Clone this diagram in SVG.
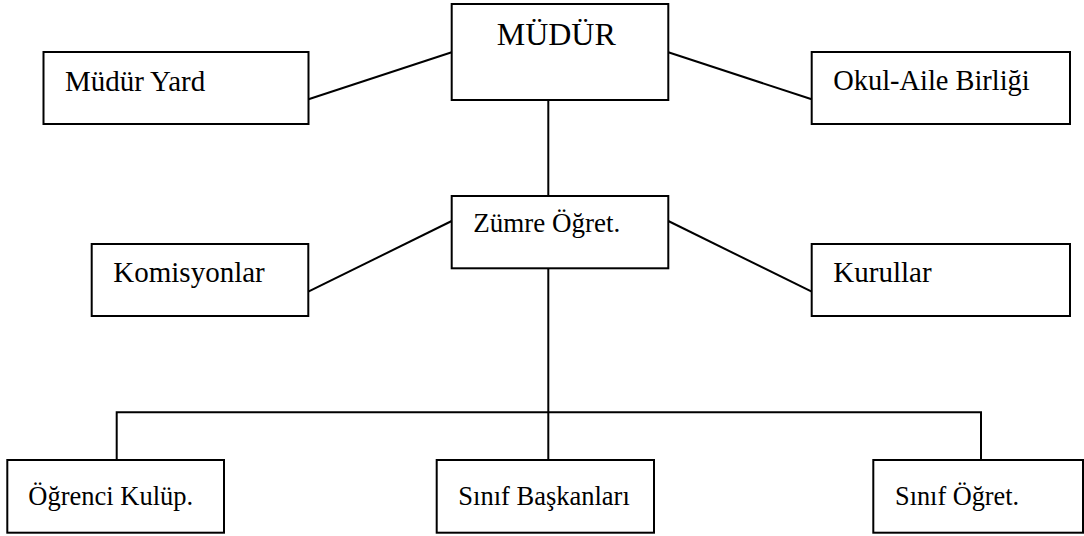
<svg xmlns="http://www.w3.org/2000/svg" width="1084" height="536" viewBox="0 0 1084 536">
<style>
.box{fill:#fff;stroke:#000;stroke-width:2}
.t{fill:#000}
.conn line,.conn polyline{stroke:#000;stroke-width:2;fill:none}
</style>
<rect width="1084" height="536" fill="#fff"/>
<g class="conn">
<line x1="308.5" y1="99.3" x2="451.7" y2="52.3"/>
<line x1="668.3" y1="52.3" x2="811.7" y2="99.3"/>
<line x1="548.3" y1="100" x2="548.3" y2="196"/>
<line x1="451.7" y1="221" x2="308.3" y2="291.7"/>
<line x1="668.3" y1="221" x2="811.7" y2="291.7"/>
<line x1="548.3" y1="268.3" x2="548.3" y2="460"/>
<polyline points="116.7,460 116.7,412.3 981,412.3 981,460"/>
</g>
<g font-family="'Liberation Serif', 'Times New Roman', 'DejaVu Serif', serif">
<g id="mudur">
<rect class="box" x="451.7" y="4" width="216.6" height="96"/>
<text class="t" x="496.7" y="45" font-size="32">MÜDÜR</text>
</g>
<g id="mudur-yard">
<rect class="box" x="43.5" y="52" width="265" height="72"/>
<text class="t" x="65" y="90.7" font-size="29">Müdür Yard</text>
</g>
<g id="okul-aile">
<rect class="box" x="811.7" y="52" width="258.3" height="72"/>
<text class="t" x="833.3" y="90" font-size="28.4">Okul-Aile Birliği</text>
</g>
<g id="zumre">
<rect class="box" x="451.7" y="196" width="216.6" height="72.3"/>
<text class="t" x="473.3" y="231.7" font-size="27">Zümre Öğret.</text>
</g>
<g id="komisyonlar">
<rect class="box" x="91.7" y="244" width="216.6" height="72"/>
<text class="t" x="113.3" y="281.7" font-size="29">Komisyonlar</text>
</g>
<g id="kurullar">
<rect class="box" x="811.7" y="244" width="258.3" height="72"/>
<text class="t" x="833.3" y="281.7" font-size="29">Kurullar</text>
</g>
<g id="ogrenci-kulup">
<rect class="box" x="7.3" y="460" width="216.7" height="72.7"/>
<text class="t" x="28.3" y="505" font-size="26.5">Öğrenci Kulüp.</text>
</g>
<g id="sinif-baskanlari">
<rect class="box" x="436.7" y="460" width="217.3" height="72.7"/>
<text class="t" x="458.3" y="505" font-size="26.5">Sınıf Başkanları</text>
</g>
<g id="sinif-ogret">
<rect class="box" x="873.3" y="460" width="209.7" height="72.7"/>
<text class="t" x="895" y="505" font-size="26.3">Sınıf Öğret.</text>
</g>
</g>
</svg>
